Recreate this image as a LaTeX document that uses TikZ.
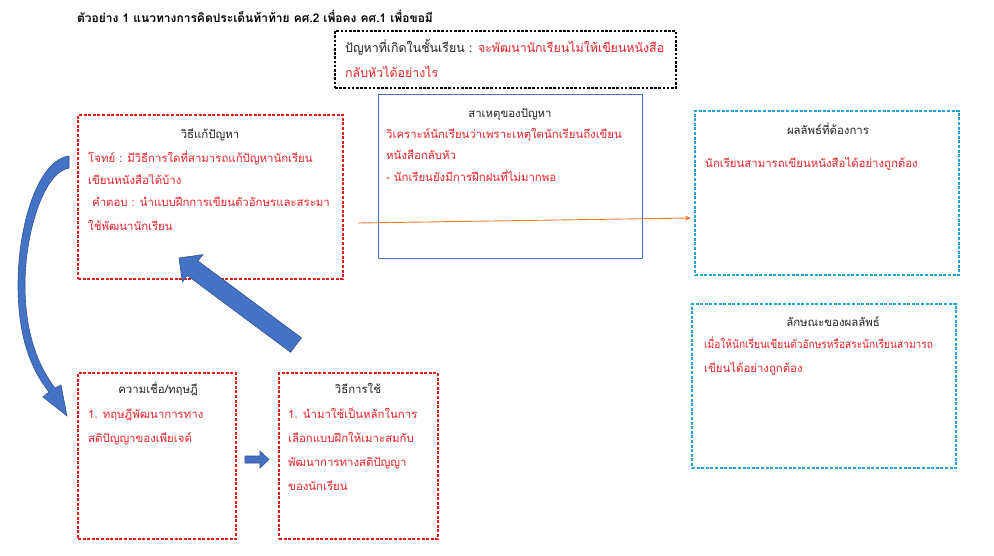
\documentclass[tikz,border=0pt]{standalone}
\usepackage{graphicx}
\usepackage{fontspec}
\setmainfont{Liberation Sans}
\newfontfamily\thai[Script=Thai]{Loma}
\usetikzlibrary{arrows.meta}
\definecolor{redtxt}{RGB}{235,35,40}
\definecolor{redln}{RGB}{222,30,30}
\definecolor{blueln}{RGB}{68,114,196}
\definecolor{cyanln}{RGB}{30,165,215}
\definecolor{orangeln}{RGB}{237,125,49}
\definecolor{arrfill}{RGB}{68,114,196}
\definecolor{arrdraw}{RGB}{47,82,143}
\definecolor{txtgray}{RGB}{35,35,35}
\tikzset{
  boxbase/.style={anchor=north west, inner sep=0, outer sep=0},
  redbox/.style={boxbase, draw=redln, line width=1.1pt, dash pattern=on 3pt off 1.6pt},
  cyanbox/.style={boxbase, draw=cyanln, line width=1.1pt, dash pattern=on 3pt off 1.6pt},
  bluebox/.style={boxbase, draw=blueln, line width=0.9pt},
  blackbox/.style={boxbase, draw=black, line width=1.3pt, dash pattern=on 2.6pt off 1.6pt},
  txt/.style={anchor=base west, inner sep=0, text=redtxt},
  ttl/.style={anchor=base, inner sep=0, text=txtgray},
  bigtxt/.style={font=\thai\fontsize{12.4}{14}\selectfont},
  blockarrow/.style={fill=arrfill, draw=arrdraw, line width=0.6pt, line join=miter}
}
\begin{document}
\begin{tikzpicture}[x=1pt,y=-1pt, font=\thai\fontsize{11.4}{13}\selectfont]
\useasboundingbox[fill=white] (0,0) rectangle (994,555);

% title
\node[anchor=base west, inner sep=0, font=\thai\bfseries\fontsize{12}{14}\selectfont] (title) at (77,22) {ตัวอย่าง 1 แนวทางการคิดประเด็นท้าท้าย คศ.2 เพื่อคง คศ.1 เพื่อขอมี};

% boxes
\node[blackbox, minimum width=341, minimum height=57] (prob) at (335,31) {};
\node[redbox, minimum width=265, minimum height=164] (sol) at (78,115) {};
\node[bluebox, minimum width=264, minimum height=164] (cause) at (378,94) {};
\node[cyanbox, minimum width=264, minimum height=164] (res) at (695,111) {};
\node[cyanbox, minimum width=264, minimum height=164] (feat) at (692,304) {};
\node[redbox, minimum width=158, minimum height=166] (belief) at (78,373) {};
\node[redbox, minimum width=159, minimum height=166] (use) at (279,373) {};

% problem box text
\node[txt, bigtxt, text=txtgray] (p1) at (345,52) {ปัญหาที่เกิดในชั้นเรียน : {\color{redtxt}จะพัฒนานักเรียนไม่ให้เขียนหนังสือ}};
\node[txt, bigtxt] (p2) at (345,77) {กลับหัวได้อย่างไร};

% solution box text
\node[ttl] (solt) at (210,138) {วิธีแก้ปัญหา};
\node[txt] (s1) at (88,162) {โจทย์ : มีวิธีการใดที่สามารถแก้ปัญหานักเรียน};
\node[txt] (s2) at (88,184) {เขียนหนังสือได้บ้าง};
\node[txt] (s3) at (92,206) {คำตอบ : นำแบบฝึกการเขียนตัวอักษรและสระมา};
\node[txt] (s4) at (88,230) {ใช้พัฒนานักเรียน};

% cause box text
\node[ttl] (caut) at (510,117) {สาเหตุของปัญหา};
\node[txt] (c1) at (386,138) {วิเคราะห์นักเรียนว่าเพราะเหตุใดนักเรียนถึงเขียน};
\node[txt] (c2) at (386,159) {หนังสือกลับหัว};
\node[txt] (c3) at (386,181) {- นักเรียนยังมีการฝึกฝนที่ไม่มากพอ};

% result box text
\node[ttl] (rest) at (828,134) {ผลลัพธ์ที่ต้องการ};
\node[txt] (r1) at (705,167) {นักเรียนสามารถเขียนหนังสือได้อย่างถูกต้อง};

% feature box text
\node[ttl] (featt) at (833,326) {ลักษณะของผลลัพธ์};
\node[txt] (f1) at (704,348) {\scalebox{0.89}[1]{เมื่อให้นักเรียนเขียนตัวอักษรหรือสระนักเรียนสามารถ}};
\node[txt] (f2) at (704,372) {เขียนได้อย่างถูกต้อง};

% belief box text
\node[ttl] (belt) at (158,393) {ความเชื่อ/ทฤษฎี};
\node[txt] (b1) at (88,418) {1. ทฤษฎีพัฒนาการทาง};
\node[txt] (b2) at (88,442) {สติปัญญาของเพียเจต์};

% use box text
\node[ttl] (uset) at (358,393) {วิธีการใช้};
\node[txt] (u1) at (288,418) {1. นำมาใช้เป็นหลักในการ};
\node[txt] (u2) at (288,442) {เลือกแบบฝึกให้เมาะสมกับ};
\node[txt] (u3) at (288,466) {พัฒนาการทางสติปัญญา};
\node[txt] (u4) at (288,490) {ของนักเรียน};

% orange connector
\coordinate (oa) at (358,223);
\coordinate (ob) at (691,218);
\draw[orangeln, line width=0.9pt, -{Stealth[length=6pt,width=5pt]}] (oa) -- (ob);

% curved block arrow
\path[blockarrow] (69,156) .. controls (38,160) and (18,225) .. (18,285)
  .. controls (18,335) and (30,368) .. (49,392) -- (43,397) -- (67,416) -- (61,385) -- (55,388)
  .. controls (38,366) and (25,333) .. (25,285)
  .. controls (25,232) and (44,172) .. (69,168) -- cycle;

% big diagonal block arrow
\path[blockarrow] (179,258) -- (202.8,254.6) -- (198,261) -- (301.4,337.8) -- (290.6,352.2) -- (187.2,275.4) -- (182.4,281.8) -- cycle;

% small right block arrow
\path[blockarrow] (245,456) -- (260,456) -- (260,451) -- (269,459.5) -- (260,468) -- (260,463) -- (245,463) -- cycle;
\end{tikzpicture}
\end{document}
